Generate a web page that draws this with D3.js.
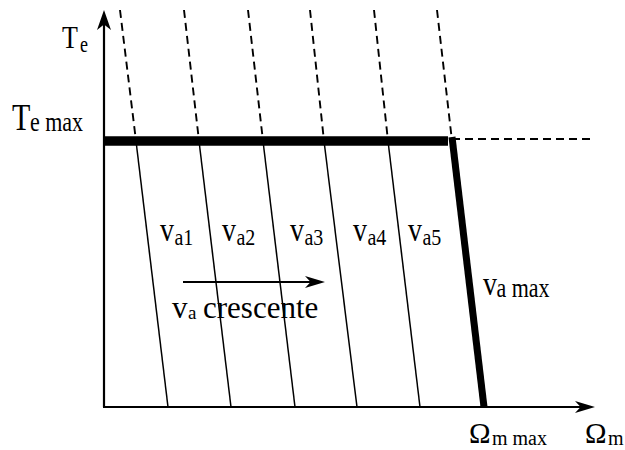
<!DOCTYPE html>
<html>
<head>
<meta charset="utf-8">
<script src="https://cdnjs.cloudflare.com/ajax/libs/d3/7.8.5/d3.min.js"></script>
<style>
  body { margin: 0; background: #fff; }
</style>
</head>
<body>
<div id="chart"></div>
<script>
// speed (Omega_m) at zero torque for each armature voltage line, va1..va5 then va max
const lineNames = ["va1", "va2", "va3", "va4", "va5", "vamax"];
const omegaAtZero = [64, 127, 191, 253, 316, 380];
// speed where each line crosses Te max
const omegaAtTmax = [32, 95, 159, 220, 284, 348];
// speed at the top of the plot (end of the dashed part)
const omegaAtTop = [16, 80, 144, 206, 270, 333];
const teMax = 266;      // Te max level
const teTop = 397;      // top of the torque axis
const omegaEnd = 491;   // end of the speed axis

const width = 625, height = 450;
const serif = "'Liberation Serif', 'Times New Roman', Tinos, 'DejaVu Serif', serif";

const x = d3.scaleLinear().domain([0, omegaEnd]).range([104, 595]);
const y = d3.scaleLinear().domain([0, teTop]).range([407, 10]);

const svg = d3.select("#chart")
  .append("svg")
  .attr("width", width)
  .attr("height", height);

// dashed upper parts of the lines (above Te max)
svg.selectAll(".dash")
  .data(lineNames)
  .enter().append("line")
  .attr("x1", (d, i) => x(omegaAtTop[i]))
  .attr("y1", y(teTop))
  .attr("x2", (d, i) => x(omegaAtTmax[i]))
  .attr("y2", y(teMax))
  .attr("stroke", "#000")
  .attr("stroke-width", 1.9)
  .attr("stroke-dasharray", "8,5");

// dashed continuation of Te max
svg.append("line")
  .attr("x1", x(omegaAtTmax[5]))
  .attr("y1", y(teMax) - 2)
  .attr("x2", x(omegaEnd))
  .attr("y2", y(teMax) - 2)
  .attr("stroke", "#000")
  .attr("stroke-width", 1.8)
  .attr("stroke-dasharray", "8,5");

// thin solid parts va1..va5
svg.selectAll(".thin")
  .data(lineNames.slice(0, 5))
  .enter().append("line")
  .attr("x1", (d, i) => x(omegaAtTmax[i]))
  .attr("y1", y(teMax))
  .attr("x2", (d, i) => x(omegaAtZero[i]))
  .attr("y2", y(0))
  .attr("stroke", "#000")
  .attr("stroke-width", 1.5);

// thick limit: Te max then va max
svg.append("line")
  .attr("x1", x(0))
  .attr("y1", y(teMax))
  .attr("x2", x(omegaAtTmax[5]) - 4)
  .attr("y2", y(teMax))
  .attr("stroke", "#000")
  .attr("stroke-width", 9.5);

svg.append("line")
  .attr("x1", x(omegaAtTmax[5]))
  .attr("y1", y(teMax) - 4)
  .attr("x2", x(omegaAtZero[5]))
  .attr("y2", y(0))
  .attr("stroke", "#000")
  .attr("stroke-width", 7);

// axes
svg.append("line")
  .attr("x1", x(0)).attr("y1", y(0))
  .attr("x2", x(0)).attr("y2", y(teTop) + 12)
  .attr("stroke", "#000").attr("stroke-width", 2.2);
svg.append("line")
  .attr("x1", x(0) - 1).attr("y1", y(0))
  .attr("x2", x(omegaEnd) - 12).attr("y2", y(0))
  .attr("stroke", "#000").attr("stroke-width", 2.2);

function arrowHead(tx, ty, dir, len, half) {
  // dir: "up" or "right"
  let p;
  if (dir === "up") {
    p = [[tx, ty], [tx + half, ty + len], [tx, ty + len * 0.72], [tx - half, ty + len]];
  } else {
    p = [[tx, ty], [tx - len, ty - half], [tx - len * 0.72, ty], [tx - len, ty + half]];
  }
  svg.append("path")
    .attr("d", "M" + p.map(q => q.join(",")).join("L") + "Z")
    .attr("fill", "#000");
}
arrowHead(x(0), y(teTop), "up", 20, 7);
arrowHead(x(omegaEnd), y(0), "right", 20, 6);

// "va crescente" arrow
const arrowFrom = 79, arrowTo = 221, arrowT = 125;
svg.append("line")
  .attr("x1", x(arrowFrom)).attr("y1", y(arrowT))
  .attr("x2", x(arrowTo) - 10).attr("y2", y(arrowT))
  .attr("stroke", "#000").attr("stroke-width", 2);
arrowHead(x(arrowTo), y(arrowT), "right", 20, 6);

// labels
function label(px, py, main, mainSize, sub, subSize, subDx, subDy, sy) {
  const g = svg.append("g")
    .attr("transform", `translate(${px},${py}) scale(1,${sy})`);
  g.append("text")
    .attr("x", 0).attr("y", 0)
    .attr("font-family", serif)
    .attr("font-size", mainSize)
    .text(main);
  g.append("text")
    .attr("x", subDx).attr("y", subDy)
    .attr("font-family", serif)
    .attr("font-size", subSize)
    .text(sub);
}

label(62, 48, "T", 26, "e", 18, 18, 3, 1.25);
label(12, 130, "T", 30, "e max", 22, 18, 1, 1.25);

const vaLabelX = [160, 222, 290, 353, 408];
vaLabelX.forEach((lx, i) => {
  label(lx, 241, "v", 28, "a" + (i + 1), 20, 14.5, 3.5, 1.2);
});
label(483, 295, "v", 28, "a max", 22, 13.5, 1.5, 1.2);

label(172, 318, "v", 31, "a", 19, 16, 1, 1.0);
svg.append("text")
  .attr("x", 203).attr("y", 318)
  .attr("font-family", serif)
  .attr("font-size", 31)
  .text("crescente");

label(469, 443, "Ω", 29, "m max", 20, 23, 2, 1.0);
label(585, 443, "Ω", 29, "m", 20, 23, 2, 1.0);
</script>
</body>
</html>
